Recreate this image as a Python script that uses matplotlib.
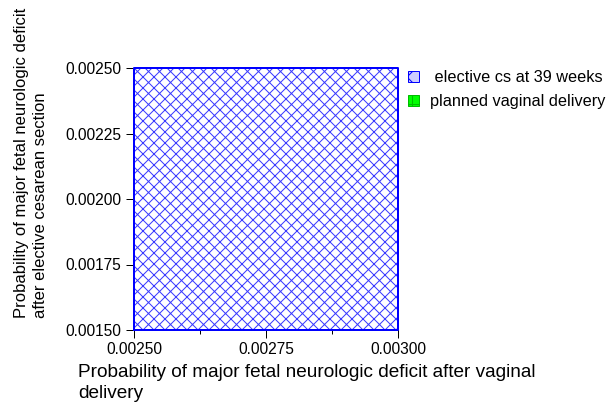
import matplotlib
matplotlib.use("Agg")
import matplotlib.pyplot as plt
from matplotlib.patches import Patch

plt.rcParams['font.family'] = ['Liberation Sans', 'DejaVu Sans']
plt.rcParams['hatch.linewidth'] = 1.1

# region where elective cs at 39 weeks is preferred
x_vaginal = [0.0025, 0.003]
y_lower = [0.0015, 0.0015]
y_upper = [0.0025, 0.0025]

xticks = [0.0025, 0.00275, 0.003]
xlabels = ["0.00250", "0.00275", "0.00300"]
yticks = [0.0015, 0.00175, 0.002, 0.00225, 0.0025]
ylabels = ["0.00150", "0.00175", "0.00200", "0.00225", "0.00250"]
legend_labels = [" elective cs at 39 weeks", "planned vaginal delivery"]

dpi = 66
W, H = 615, 406


def pt(px):
    return px * 72 / dpi


fig = plt.figure(figsize=(W / dpi, H / dpi), dpi=dpi)
L, R, T, B = 134, 398, 68, 330
ax = fig.add_axes([L / W, 1 - B / H, (R - L) / W, (B - T) / H])

ax.fill_between(x_vaginal, y_lower, y_upper, facecolor='white',
                edgecolor='#3a3aff', hatch='xx', linewidth=0)
ax.plot([x_vaginal[0], x_vaginal[1], x_vaginal[1], x_vaginal[0], x_vaginal[0]],
        [y_lower[0], y_lower[1], y_upper[1], y_upper[0], y_lower[0]],
        color='#0000ff', lw=pt(2), clip_on=False, zorder=3)

ax.set_xlim(0.0025, 0.003)
ax.set_ylim(0.0015, 0.0025)
ax.set_xticks(xticks)
ax.set_xticklabels(xlabels)
ax.set_xticks([0.002625, 0.002875], minor=True)
ax.set_yticks(yticks)
ax.set_yticklabels(ylabels)
ax.tick_params(axis='both', labelsize=pt(15.5), length=pt(8), width=pt(1),
               direction='out', pad=pt(4.4))
ax.tick_params(axis='x', which='minor', length=pt(4), width=pt(1))
for s in ['top', 'right']:
    ax.spines[s].set_visible(False)
for s in ['left', 'bottom']:
    ax.spines[s].set_linewidth(pt(1))

ax.set_xlabel("Probability of major fetal neurologic deficit after vaginal\ndelivery",
              fontsize=pt(19), loc='left', linespacing=1.28)
ax.xaxis.set_label_coords((78 - L) / (R - L), (B - 364) / (B - T))

ax.set_ylabel("Probability of major fetal neurologic deficit\nafter elective cesarean section",
              fontsize=pt(16.7), linespacing=1.3)
ax.yaxis.label.set(ha='left', va='center', multialignment='left')
ax.yaxis.set_label_coords((31 - L) / (R - L), (B - 318) / (B - T))

handles = [Patch(facecolor='#ccccff', edgecolor='#0000ff', hatch='x', lw=pt(1)),
           Patch(facecolor='#00ff00', edgecolor='#00bb00', hatch='+', lw=pt(1))]
fig.legend(handles, legend_labels, loc='upper left', bbox_to_anchor=(408 / W, 1 - 70 / H),
           frameon=False, fontsize=pt(16.3), handlelength=0.68, handleheight=0.68,
           handletextpad=0.7, labelspacing=0.55, borderaxespad=0, borderpad=0)

fig.savefig("out.png", dpi=dpi)
